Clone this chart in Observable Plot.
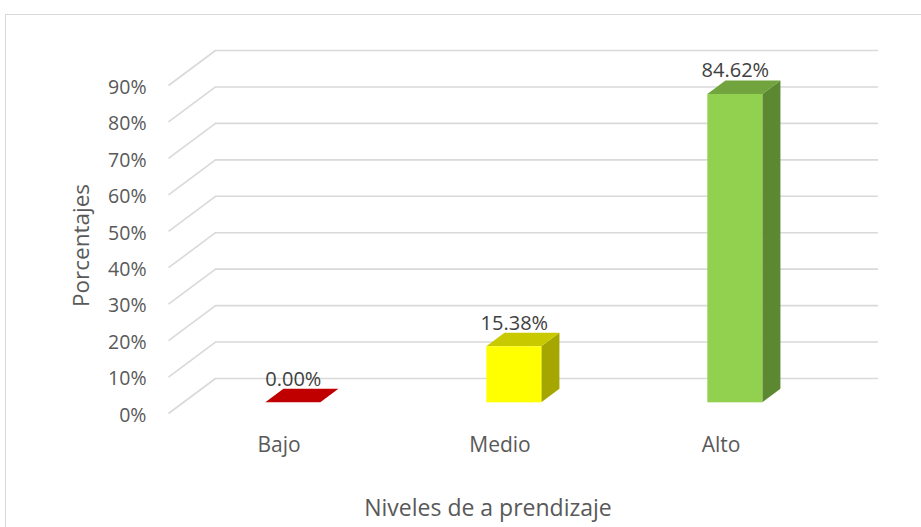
<!DOCTYPE html>
<html>
<head>
<meta charset="utf-8">
<script src="https://cdn.jsdelivr.net/npm/d3@7"></script>
<script src="https://cdn.jsdelivr.net/npm/@observablehq/plot@0.6"></script>
<style>
  html, body { margin: 0; padding: 0; background: #fff; overflow: hidden; width: 921px; height: 527px; }
  #frame { position: absolute; left: 5px; top: 14px; width: 1000px; height: 1000px; border: 1px solid #d9d9d9; box-sizing: border-box; }
  #chart { position: absolute; left: 0; top: 0; }
</style>
</head>
<body>
<div id="frame"></div>
<div id="chart"></div>
<script>
// ---- data ----
const categories = ["Bajo", "Medio", "Alto"];
const values = [0, 15.38, 84.62];
const valueLabels = ["0.00%", "15.38%", "84.62%"];
const yTicks = [0, 10, 20, 30, 40, 50, 60, 70, 80, 90];
const xTitle = "Niveles de a prendizaje";
const yTitle = "Porcentajes";

// ---- styles ----
const frontColors = ["#C00000", "#FFFF00", "#92D050"];
const topColors = ["#C00000", "#C9C900", "#71A33E"];
const sideColors = ["#A00000", "#A6A600", "#5C8832"];

// ---- oblique 3D geometry (in scale units) ----
const W = 921, H = 527;
const mL = 215, mR = 43, mT = 50, mB = 149;
const pxPerCat = (W - mL - mR) / 3;
const pxPerPct = (H - mT - mB) / 90;
const KX = 47 / pxPerCat;   // floor depth, x
const KY = 35 / pxPerPct;   // floor depth, y
const HW = 0.1244;          // bar half width
const ZF = 0.695, ZB = 0.31; // bar front / back depth

const bars = categories.map((c, i) => ({c, i, v: values[i], label: valueLabels[i]}));

const sidePts = bars.flatMap(d => {
  const xr = d.i + 0.5 + HW;
  return [
    {i: d.i, x: xr - ZF * KX, y1: -ZF * KY, y2: d.v - ZF * KY},
    {i: d.i, x: xr - ZB * KX, y1: -ZB * KY, y2: d.v - ZB * KY}
  ];
});
const topPts = bars.flatMap(d => {
  const xl = d.i + 0.5 - HW, xr = d.i + 0.5 + HW;
  return [
    {i: d.i, y: d.v - ZF * KY, x1: xl - ZF * KX, x2: xr - ZF * KX},
    {i: d.i, y: d.v - ZB * KY, x1: xl - ZB * KX, x2: xr - ZB * KX}
  ];
});

const grid = "#d9d9d9";
const font = "'Open Sans', 'Noto Sans', sans-serif";

const chart = Plot.plot({
  width: W, height: H,
  marginLeft: mL, marginRight: mR, marginTop: mT, marginBottom: mB,
  x: {domain: [0, 3], axis: null},
  y: {domain: [0, 90]},
  color: {type: "identity"},
  style: {background: "transparent", fontFamily: font, color: "#595959", overflow: "visible"},
  marks: [
    // back wall gridlines
    Plot.ruleY(yTicks, {y: d => d, x1: 0, x2: 3, stroke: grid, strokeWidth: 1.6}),
    // side wall / floor diagonals
    Plot.link(yTicks, {x1: 0, y1: d => d, x2: -KX, y2: d => d - KY, stroke: grid, strokeWidth: 1.6}),
    // y axis labels (front edge)
    Plot.axisY({ticks: yTicks, tickFormat: d => d + "%", tickSize: 0, dx: -60, dy: 37, fontSize: 19.5, fill: "#595959"}),
    // bars: side faces
    Plot.areaY(sidePts, {x: "x", y1: "y1", y2: "y2", z: "i", fill: d => sideColors[d.i]}),
    // bars: top faces
    Plot.areaX(topPts, {y: "y", x1: "x1", x2: "x2", z: "i", fill: d => topColors[d.i]}),
    // bars: front faces
    Plot.rect(bars, {
      x1: d => d.i + 0.5 - HW - ZF * KX,
      x2: d => d.i + 0.5 + HW - ZF * KX,
      y1: -ZF * KY,
      y2: d => d.v - ZF * KY,
      fill: d => frontColors[d.i]
    }),
    // value labels
    Plot.text(bars, {x: d => d.i + 0.5 - ZF * KX, y: d => d.v - ZB * KY, text: "label", dy: -10, fontSize: 20, fill: "#404040"}),
    // category labels
    Plot.text(bars, {x: d => d.i + 0.5 - KX, y: -KY, text: "c", dy: 32, fontSize: 21, fill: "#595959"}),
    // axis titles
    Plot.text([xTitle], {frameAnchor: "bottom", lineAnchor: "middle", textAnchor: "middle", text: d => d, dx: -59, dy: 130, fontSize: 23, fill: "#595959"}),
    Plot.text([yTitle], {frameAnchor: "left", lineAnchor: "middle", textAnchor: "middle", text: d => d, rotate: -90, dx: -134, dy: 31, fontSize: 22.5, fill: "#595959"})
  ]
});
document.getElementById("chart").appendChild(chart);
</script>
</body>
</html>
